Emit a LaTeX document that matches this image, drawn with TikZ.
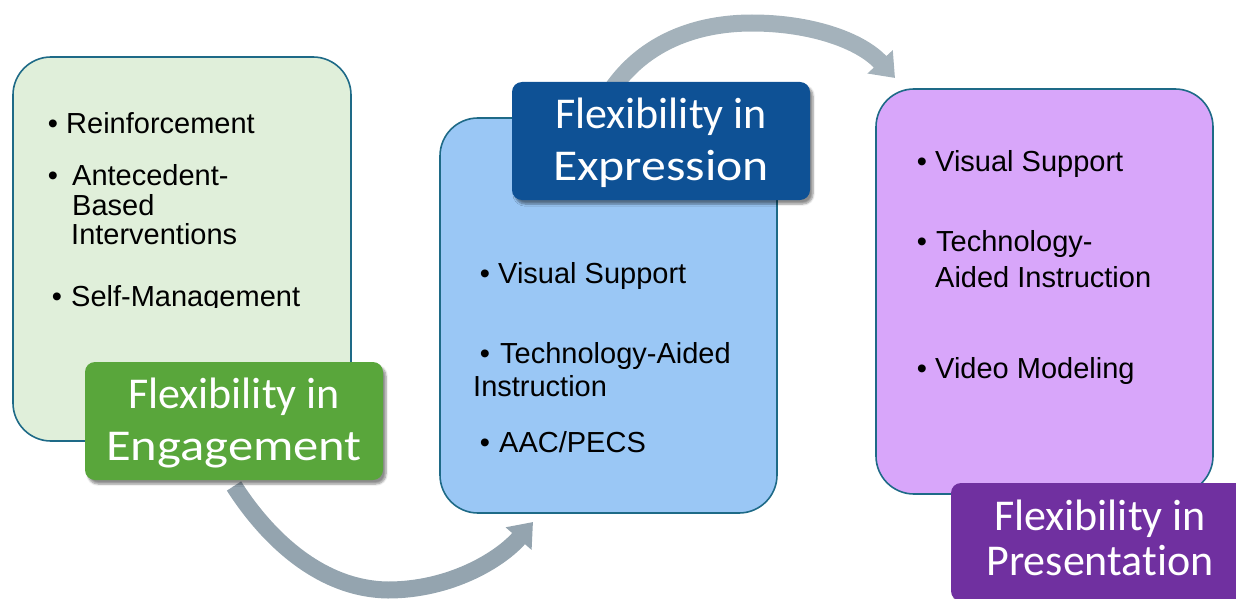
\documentclass[tikz,border=0pt]{standalone}
\usepackage{fontspec}
\usepackage{graphicx}
\setmainfont{Liberation Sans}
\newfontfamily\labfont[Ligatures=NoCommon]{Carlito}
\usetikzlibrary{arrows.meta,shadows.blur}
\definecolor{greenbox}{HTML}{E0EFDA}
\definecolor{bluebox}{HTML}{9AC7F5}
\definecolor{purplebox}{HTML}{D8A6FA}
\definecolor{boxedge}{HTML}{1E6A87}
\definecolor{greenlab}{HTML}{59A63B}
\definecolor{bluelab}{HTML}{0E5195}
\definecolor{purplelab}{HTML}{7030A0}
\definecolor{arrowgrey}{HTML}{94A4AF}
\begin{document}
\begin{tikzpicture}[x=1pt,y=-1pt,
  panel/.style={draw=boxedge, line width=1.6pt, rounded corners=38pt, inner sep=0pt},
  label/.style={rounded corners=10pt, text=white, align=center, inner sep=0pt,
    minimum width=298pt, minimum height=118pt,
    font=\labfont\fontsize{44}{52}\selectfont,
    blur shadow={shadow xshift=3pt, shadow yshift=-4pt, shadow opacity=45, shadow blur steps=6}},
  bul/.style={font=\fontsize{29}{34}\selectfont, inner sep=0pt, anchor=base},
  btxt/.style={font=\fontsize{29}{34}\selectfont, inner sep=0pt, anchor=base west},
  bigarrow/.style={draw=arrowgrey, line width=17pt, -{Triangle[width=33pt,length=22pt]}}
]
\useasboundingbox (0,0) rectangle (1236,599);
\clip (0,0) rectangle (1236,599);

% arrows (behind)
\coordinate (a1s) at (234,486);
\coordinate (a1e) at (533,522);
\coordinate (a2s) at (605,100);
\coordinate (a2e) at (895,78);
\draw[bigarrow] (a1s) .. controls (262,530) and (315,589) .. (388,590)
  .. controls (450,590) and (500,560) .. (a1e);
\draw[bigarrow, draw=arrowgrey!85] (a2s) .. controls (640,40) and (700,23) .. (752,23)
  .. controls (810,23) and (860,40) .. (a2e);

% panels
\node[panel, fill=greenbox, minimum width=338pt, minimum height=384pt] (gbox) at (182,249) {};
\node[panel, fill=bluebox, minimum width=337pt, minimum height=395pt] (bbox) at (608.5,315.5) {};
\node[panel, fill=purplebox, minimum width=337pt, minimum height=405pt] (pbox) at (1044.5,291.5) {};

% green panel text
\node[bul] (g1b) at (53,134) {•};
\node[btxt] (g1t) at (66,134) {Reinforcement};
\node[bul] (g2b) at (53,185) {•};
\node[btxt] (g2t) at (72,185) {Antecedent-};
\node[btxt] (g2u) at (72,215) {Based};
\node[btxt] (g2v) at (71,244) {Interventions};
\begin{scope}
\clip (0,0) rectangle (351,307);
\node[bul] (g3b) at (57,306) {•};
\node[btxt] (g3t) at (71,306) {Self-Management};
\end{scope}

% blue panel text
\node[bul] (b1b) at (485,283) {•};
\node[btxt] (b1t) at (498,283) {Visual Support};
\node[bul] (b2b) at (485,363) {•};
\node[btxt] (b2t) at (500,363) {Technology-Aided};
\node[btxt] (b2u) at (473,396) {Instruction};
\node[bul] (b3b) at (485,452) {•};
\node[btxt] (b3t) at (499,452) {AAC/PECS};

% purple panel text
\node[bul] (p1b) at (922,171) {•};
\node[btxt] (p1t) at (935,171) {Visual Support};
\node[bul] (p2b) at (922,251) {•};
\node[btxt] (p2t) at (936,251) {Technology-};
\node[btxt] (p2u) at (935,287) {Aided Instruction};
\node[bul] (p3b) at (922,378) {•};
\node[btxt] (p3t) at (935,378) {Video Modeling};

% labels
\node[label, fill=greenlab] (glab) at (234,421)
  {\rule{0pt}{38pt}Flexibility in\\\scalebox{1.15}[1]{Engagement}\rule[-12pt]{0pt}{0pt}};
\node[label, fill=bluelab] (blab) at (661,141)
  {\rule{0pt}{38pt}Flexibility in\\\scalebox{1.13}[1]{Expression}\rule[-12pt]{0pt}{0pt}};
\node[label, fill=purplelab, font=\labfont\fontsize{44}{45}\selectfont] (plab) at (1100,542)
  {\rule{0pt}{33pt}Flexibility in\\Presentation\rule[-12pt]{0pt}{0pt}};
\end{tikzpicture}
\end{document}
